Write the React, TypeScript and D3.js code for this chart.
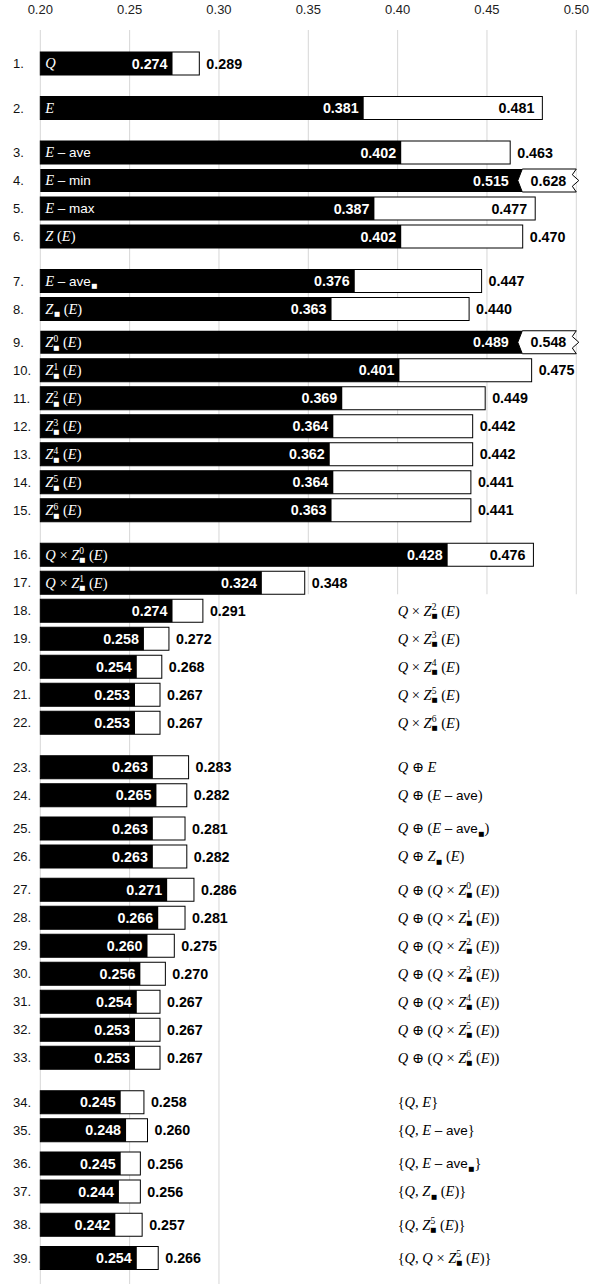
import React from 'react';
import * as d3 from 'd3';

// Axis ticks (shared scale for every bar)
const tickValues = [0.2, 0.25, 0.3, 0.35, 0.4, 0.45, 0.5];

// Row labels, written in a light markup:
//   Q, E, Z  -> italic math letters
//   ^n       -> superscript n stacked over a black-square subscript
//   ■        -> black-square subscript
//   a-z runs -> upright sans text
const rowLabels = [
  'Q',
  'E',
  'E – ave',
  'E – min',
  'E – max',
  'Z (E)',
  'E – ave■',
  'Z■ (E)',
  'Z^0 (E)',
  'Z^1 (E)',
  'Z^2 (E)',
  'Z^3 (E)',
  'Z^4 (E)',
  'Z^5 (E)',
  'Z^6 (E)',
  'Q × Z^0 (E)',
  'Q × Z^1 (E)',
  'Q × Z^2 (E)',
  'Q × Z^3 (E)',
  'Q × Z^4 (E)',
  'Q × Z^5 (E)',
  'Q × Z^6 (E)',
  'Q ⊕ E',
  'Q ⊕ (E – ave)',
  'Q ⊕ (E – ave■)',
  'Q ⊕ Z■ (E)',
  'Q ⊕ (Q × Z^0 (E))',
  'Q ⊕ (Q × Z^1 (E))',
  'Q ⊕ (Q × Z^2 (E))',
  'Q ⊕ (Q × Z^3 (E))',
  'Q ⊕ (Q × Z^4 (E))',
  'Q ⊕ (Q × Z^5 (E))',
  'Q ⊕ (Q × Z^6 (E))',
  '{Q, E}',
  '{Q, E – ave}',
  '{Q, E – ave■}',
  '{Q, Z■ (E)}',
  '{Q, Z^5 (E)}',
  '{Q, Q × Z^5 (E)}',
];

// Black (lower) values
const lowerValues = [
  0.274, 0.381, 0.402, 0.515, 0.387, 0.402, 0.376, 0.363, 0.489, 0.401,
  0.369, 0.364, 0.362, 0.364, 0.363, 0.428, 0.324, 0.274, 0.258, 0.254,
  0.253, 0.253, 0.263, 0.265, 0.263, 0.263, 0.271, 0.266, 0.26, 0.256,
  0.254, 0.253, 0.253, 0.245, 0.248, 0.245, 0.244, 0.242, 0.254,
];

// White (upper) values
const upperValues = [
  0.289, 0.481, 0.463, 0.628, 0.477, 0.47, 0.447, 0.44, 0.548, 0.475,
  0.449, 0.442, 0.442, 0.441, 0.441, 0.476, 0.348, 0.291, 0.272, 0.268,
  0.267, 0.267, 0.283, 0.282, 0.281, 0.282, 0.286, 0.281, 0.275, 0.27,
  0.267, 0.267, 0.267, 0.258, 0.26, 0.256, 0.256, 0.257, 0.266,
];

// Row grouping: sections (wide gaps) made of sub-groups (narrow gaps), as row counts
const sections = [[1], [1], [4], [2, 7], [7], [2, 2, 7], [2, 2, 1, 1]];

// Rows whose name sits inside the bar; the rest are named on the right
const insideLabelRows = 17;

const W = 602;
const H = 1284;
const PITCH = 28;
const BAR_H = 23;
const BIG_GAP = 16.5 / PITCH;
const SMALL_GAP = 5.25 / PITCH;
const SANS = '"Liberation Sans", Arial, Helvetica, sans-serif';
const SERIF = '"Liberation Serif", "DejaVu Serif", "Times New Roman", serif';
const SYM = '"DejaVu Sans", sans-serif';

type Tok = { kind: 'it' | 'rm' | 'sf' | 'sup' | 'sq'; text: string };

function tokenize(s: string): Tok[] {
  const out: Tok[] = [];
  let i = 0;
  while (i < s.length) {
    const c = s[i];
    if (c === '^') {
      out.push({ kind: 'sup', text: s[i + 1] });
      i += 2;
    } else if (c === '■') {
      out.push({ kind: 'sq', text: '■' });
      i += 1;
    } else if (/[A-Z]/.test(c)) {
      out.push({ kind: 'it', text: c });
      i += 1;
    } else if (/[a-z]/.test(c)) {
      let j = i;
      while (j < s.length && /[a-z]/.test(s[j])) j++;
      out.push({ kind: 'sf', text: s.slice(i, j) });
      i = j;
    } else if (c === '–') {
      out.push({ kind: 'sf', text: c });
      i += 1;
    } else {
      out.push({ kind: 'rm', text: c });
      i += 1;
    }
  }
  return out;
}

function MathLabel({ x, y, s, fill }: { x: number; y: number; s: string; fill: string }) {
  const toks = tokenize(s);
  let shift = 0;
  const spans: React.ReactNode[] = [];
  const SUP = -5.5;
  const SUB = 2.5;
  toks.forEach((t, i) => {
    if (t.kind === 'sup') {
      spans.push(
        <tspan key={i + 'a'} dy={SUP - shift} fontFamily={SERIF} fontSize={9.5}>
          {t.text}
        </tspan>
      );
      spans.push(
        <tspan key={i + 'b'} dx={-4.9} dy={SUB - SUP} fontFamily={SYM} fontSize={6.5}>
          ■
        </tspan>
      );
      shift = SUB;
    } else if (t.kind === 'sq') {
      spans.push(
        <tspan key={i} dx={0.5} dy={SUB - shift} fontFamily={SYM} fontSize={6.5}>
          ■
        </tspan>
      );
      shift = SUB;
    } else {
      const font =
        t.kind === 'it'
          ? { fontFamily: SERIF, fontStyle: 'italic', fontSize: 14.5 }
          : t.kind === 'sf'
          ? { fontFamily: SANS, fontStyle: 'normal', fontSize: 13.5 }
          : { fontFamily: SERIF, fontStyle: 'normal', fontSize: 14.5 };
      spans.push(
        <tspan key={i} dy={-shift} {...font}>
          {t.text}
        </tspan>
      );
      shift = 0;
    }
  });
  return (
    <text x={x} y={y} fill={fill} style={{ whiteSpace: 'pre' }}>
      {spans}
    </text>
  );
}

export default function App() {
  const x = d3.scaleLinear().domain([0.2, 0.5]).range([40.3, 576.3]);
  const [xMin, xMax] = x.range();

  // slot position of every row, in units of one row pitch
  const slots: number[] = [];
  let u = 0;
  sections.forEach((sec, si) => {
    if (si > 0) u += BIG_GAP;
    sec.forEach((count, gi) => {
      if (gi > 0) u += SMALL_GAP;
      for (let k = 0; k < count; k++) {
        slots.push(u);
        u += 1;
      }
    });
  });
  const y = d3.scaleLinear().domain([0, 1]).range([63.5, 63.5 + PITCH]);

  const VAL_GAP = 7;
  const VAL_W = 36.5;
  const breakW = 54;

  // lower rows: how far their outside value labels reach
  const lowerExtent = d3.max(
    upperValues.slice(insideLabelRows),
    (v) => x(v) + VAL_GAP + VAL_W
  ) as number;
  const gridBottomShort = y(slots[insideLabelRows - 1]) + BAR_H / 2;

  const rows = rowLabels.map((label, i) => ({
    label,
    lo: lowerValues[i],
    hi: upperValues[i],
    cy: y(slots[i]),
  }));

  return (
    <svg
      width={W}
      height={H}
      style={{ position: 'absolute', left: 0, top: 0, background: '#fff' }}
    >
      {/* grid */}
      {tickValues.map((t) => (
        <g key={t}>
          <line
            x1={x(t)}
            x2={x(t)}
            y1={30}
            y2={x(t) > lowerExtent ? gridBottomShort : H}
            stroke="#d6d6d6"
            strokeWidth={1}
          />
          <text
            x={x(t)}
            y={13.5}
            textAnchor="middle"
            fontFamily={SANS}
            fontSize={13}
            fill="#222"
          >
            {d3.format('.2f')(t)}
          </text>
        </g>
      ))}

      {rows.map((r, i) => {
        const top = r.cy - BAR_H / 2;
        const bot = r.cy + BAR_H / 2;
        const broken = r.hi > 0.5;
        const baseline = r.cy + 5;
        let bars: React.ReactNode;
        let hiLabel: React.ReactNode;
        let loLabelX: number;
        if (broken) {
          const xb = xMax - breakW;
          const tip = xb - 4.5;
          const zig = [
            [xb, top],
            [xMax, top],
            [xMax - 4, top + 5.75],
            [xMax + 2.5, r.cy],
            [xMax - 4, bot - 5.75],
            [xMax, bot],
            [xb, bot],
            [tip, r.cy],
          ];
          bars = (
            <>
              <rect x={xMin} y={top} width={xb - xMin} height={BAR_H} fill="#000" />
              <polygon
                points={zig.map((p) => p.join(',')).join(' ')}
                fill="#fff"
                stroke="#000"
                strokeWidth={1}
              />
            </>
          );
          loLabelX = tip - 9;
          hiLabel = (
            <text
              x={xMax - 10}
              y={baseline}
              textAnchor="end"
              fontFamily={SANS}
              fontWeight="bold"
              fontSize={14.3}
              fill="#000"
            >
              {d3.format('.3f')(r.hi)}
            </text>
          );
        } else {
          const xh = x(r.hi);
          const inside = xh + VAL_GAP + VAL_W > xMax;
          bars = (
            <>
              <rect
                x={xMin}
                y={top}
                width={xh - xMin}
                height={BAR_H}
                fill="#fff"
                stroke="#000"
                strokeWidth={1}
              />
              <rect x={xMin} y={top} width={x(r.lo) - xMin} height={BAR_H} fill="#000" />
            </>
          );
          loLabelX = x(r.lo) - 5;
          hiLabel = (
            <text
              x={inside ? xh - 8 : xh + VAL_GAP}
              y={baseline}
              textAnchor={inside ? 'end' : 'start'}
              fontFamily={SANS}
              fontWeight="bold"
              fontSize={14.3}
              fill="#000"
            >
              {d3.format('.3f')(r.hi)}
            </text>
          );
        }
        const inBar = i < insideLabelRows;
        return (
          <g key={i}>
            <text x={13} y={r.cy + 4.7} fontFamily={SANS} fontSize={13} fill="#111">
              {`${i + 1}.`}
            </text>
            {bars}
            <text
              x={loLabelX}
              y={baseline}
              textAnchor="end"
              fontFamily={SANS}
              fontWeight="bold"
              fontSize={14.3}
              fill="#fff"
            >
              {d3.format('.3f')(r.lo)}
            </text>
            {hiLabel}
            <MathLabel
              x={inBar ? xMin + 5 : x(0.4)}
              y={r.cy + 4.8}
              s={r.label}
              fill={inBar ? '#fff' : '#000'}
            />
          </g>
        );
      })}
    </svg>
  );
}
